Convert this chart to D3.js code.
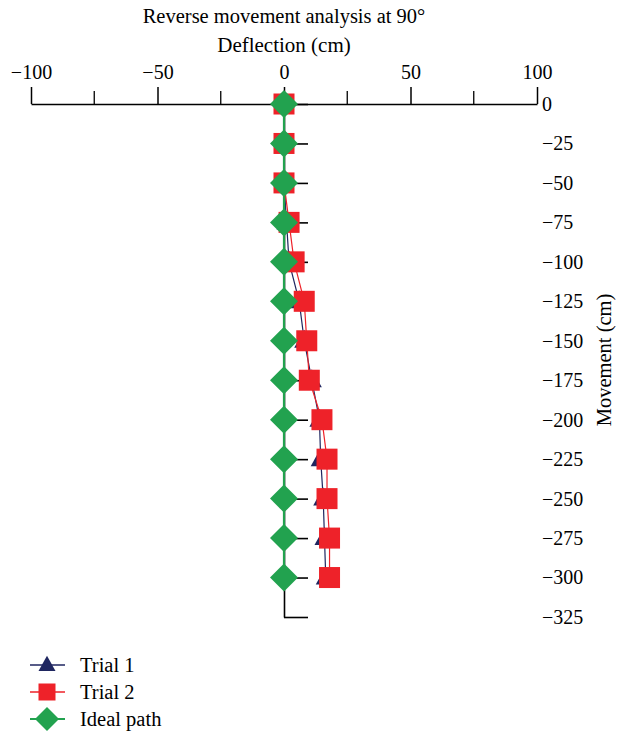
<!DOCTYPE html>
<html><head><meta charset="utf-8">
<script src="https://cdn.jsdelivr.net/npm/d3@7"></script>
<style>body{margin:0;background:#fff}svg{display:block}</style>
</head><body>
<svg id="c" width="618" height="733"></svg>
<script>
const movement = [0,-25,-50,-75,-100,-125,-150,-175,-200,-225,-250,-275,-300];
const trial1 = [0,0,0,1,2,6,8,11,14,14.5,15.5,16,16.5];
const trial2 = [0,0,0,2,4,8,9,10,15,17,17,18,18];
const ideal  = [0,0,0,0,0,0,0,0,0,0,0,0,0];
const xMajor = [-100,-50,0,50,100];
const xMinor = [-75,-25,25,75];
const yTicks = [0,-25,-50,-75,-100,-125,-150,-175,-200,-225,-250,-275,-300,-325];
const seriesNames = ["Trial 1","Trial 2","Ideal path"];
const colors = ["#1f2660","#ee2229","#22a24f"];

const svg = d3.select("#c");
const FONT = "'Liberation Serif','Times New Roman',serif";
const x = d3.scaleLinear().domain([-100,100]).range([31,537]);
const y = d3.scaleLinear().domain([0,-325]).range([104,617]);

// title
svg.append("text").attr("x",284).attr("y",23).attr("text-anchor","middle")
  .style("font-family",FONT).style("font-size","20.5px").text("Reverse movement analysis at 90°");
svg.append("text").attr("x",284).attr("y",52).attr("text-anchor","middle")
  .style("font-family",FONT).style("font-size","21px").text("Deflection (cm)");

// x axis top
const gx = svg.append("g").attr("transform","translate(0,104)");
gx.call(d3.axisTop(x).tickValues(xMajor).tickSize(17).tickSizeOuter(0).tickPadding(8).tickFormat(d3.format("d")));
gx.selectAll("line.minor").data(xMinor).join("line").attr("class","minor")
  .attr("x1",d=>x(d)).attr("x2",d=>x(d)).attr("y1",0).attr("y2",-13)
  .attr("stroke","#000").attr("stroke-width",1.3);
gx.select(".domain").attr("stroke-width",1.5);
gx.selectAll(".tick line").attr("stroke-width",1.5);
gx.selectAll("text").style("font-family",FONT).style("font-size","20px");

// y axis
const gy = svg.append("g").attr("transform","translate(284,0)");
gy.call(d3.axisRight(y).tickValues(yTicks).tickSize(24).tickSizeOuter(0).tickPadding(234).tickFormat(d3.format("d")));
gy.select(".domain").attr("stroke-width",1.6);
gy.selectAll(".tick line").attr("stroke-width",1.6);
gy.selectAll("text").style("font-family",FONT).style("font-size","20px");

svg.append("text").attr("transform","translate(611,360) rotate(-90)").attr("text-anchor","middle")
  .style("font-family",FONT).style("font-size","20.5px").text("Movement (cm)");

// series
const allSeries = [trial1, trial2, ideal];
const line = d3.line().x(d=>x(d[0])).y(d=>y(d[1]));
function marker(g, i, s) {
  if (i===0) g.append("path").attr("d",`M0,${-s*0.55}L${s/2},${s*0.35}L${-s/2},${s*0.35}Z`).attr("fill",colors[0]);
  else if (i===1) g.append("rect").attr("x",-s/2).attr("y",-s/2).attr("width",s).attr("height",s).attr("fill",colors[1]);
  else g.append("path").attr("d",`M0,${-s/2}L${s/2},0L0,${s/2}L${-s/2},0Z`).attr("fill",colors[2]);
}
const sizes = [20,21,28];
allSeries.forEach((vals,i)=>{
  const pts = vals.map((v,k)=>[v,movement[k]]);
  svg.append("path").datum(pts).attr("d",line).attr("fill","none")
    .attr("stroke",colors[i]).attr("stroke-width",i===2?2.2:1.2);
  pts.forEach(p=>{
    const g = svg.append("g").attr("transform",`translate(${x(p[0])},${y(p[1])})`);
    marker(g,i,sizes[i]);
  });
});

// legend
const legY = [665,692,719];
const legSizes = [17,17,24];
seriesNames.forEach((n,i)=>{
  svg.append("line").attr("x1",30).attr("x2",65).attr("y1",legY[i]).attr("y2",legY[i])
    .attr("stroke",colors[i]).attr("stroke-width",i===2?2:1.3);
  const g = svg.append("g").attr("transform",`translate(47,${legY[i]})`);
  marker(g,i,legSizes[i]);
  svg.append("text").attr("x",80).attr("y",legY[i]+7).style("font-family",FONT).style("font-size","20.5px").text(n);
});
</script>
</body></html>
